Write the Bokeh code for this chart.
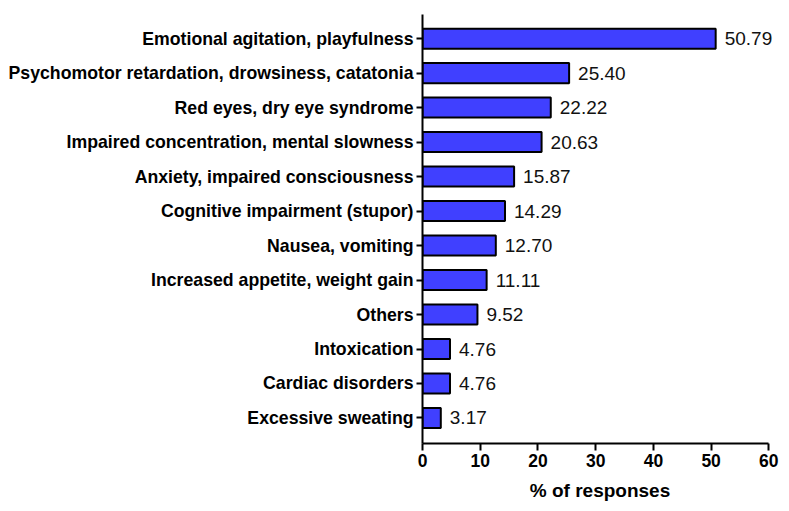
from bokeh.plotting import figure
from bokeh.models import ColumnDataSource, Range1d, FixedTicker, LabelSet
from bokeh.core.properties import value
from bokeh.embed import file_html
from bokeh.resources import INLINE

categories = [
    "Emotional agitation, playfulness",
    "Psychomotor retardation, drowsiness, catatonia",
    "Red eyes, dry eye syndrome",
    "Impaired concentration, mental slowness",
    "Anxiety, impaired consciousness",
    "Cognitive impairment (stupor)",
    "Nausea, vomiting",
    "Increased appetite, weight gain",
    "Others",
    "Intoxication",
    "Cardiac disorders",
    "Excessive sweating",
]
values = [50.79, 25.40, 22.22, 20.63, 15.87, 14.29, 12.70, 11.11, 9.52, 4.76, 4.76, 3.17]
x_ticks = [0, 10, 20, 30, 40, 50, 60]
x_title = "% of responses"

ypos = list(range(len(categories)))
src = ColumnDataSource(dict(
    y=ypos, v=values, lab=["%.2f" % v for v in values], cat=categories,
))

p = figure(width=781, height=505, output_backend="svg", toolbar_location=None,
           x_range=Range1d(0, 61.5), y_range=Range1d(len(categories) - 0.26, -0.7),
           min_border_left=422, min_border_right=4, min_border_top=14, min_border_bottom=62)
p.outline_line_color = None
p.grid.visible = False
p.background_fill_color = "white"

p.hbar(y="y", right="v", left=0, height=0.58, source=src,
       fill_color="#4040FF", line_color="black", line_width=2)

labels = LabelSet(x="v", y="y", text="lab", source=src, x_offset=9,
                  text_baseline="middle", text_align="left", text_font_size="19px",
                  text_color="#111111", text_font=value("Liberation Sans"))
p.add_layout(labels)

p.xaxis.ticker = FixedTicker(ticks=x_ticks)
p.xaxis.bounds = (0, 60)
p.xaxis.axis_label = x_title
p.xaxis.axis_label_text_font = "Liberation Sans"
p.xaxis.axis_label_text_font_style = "bold"
p.xaxis.axis_label_text_font_size = "19px"
p.xaxis.axis_label_text_color = "black"
p.xaxis.axis_label_standoff = 10
p.xaxis.major_label_text_font = "Liberation Sans"
p.xaxis.major_label_text_font_style = "bold"
p.xaxis.major_label_text_font_size = "17.5px"
p.xaxis.major_label_text_color = "black"
p.xaxis.major_label_standoff = 3
p.xaxis.minor_tick_line_color = None
p.xaxis.major_tick_out = 7
p.xaxis.major_tick_in = 0

p.yaxis.ticker = FixedTicker(ticks=ypos)
p.yaxis.major_label_overrides = {i: c for i, c in enumerate(categories)}
p.yaxis.major_label_text_font = "Liberation Sans"
p.yaxis.major_label_text_font_style = "bold"
p.yaxis.major_label_text_font_size = "17.7px"
p.yaxis.major_label_text_color = "black"
p.yaxis.major_label_standoff = 3
p.yaxis.minor_tick_line_color = None
p.yaxis.major_tick_out = 6
p.yaxis.major_tick_in = 0

for ax in (p.xaxis, p.yaxis):
    ax.axis_line_width = 2
    ax.axis_line_color = "black"
    ax.major_tick_line_width = 2
    ax.major_tick_line_color = "black"

open("out.html", "w").write(file_html(p, INLINE))
